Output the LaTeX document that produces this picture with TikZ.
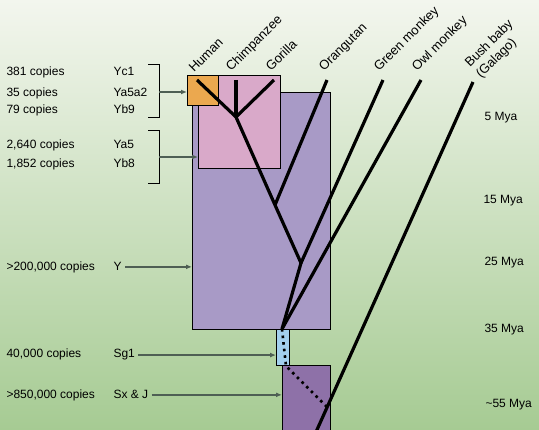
\documentclass[tikz,border=0pt]{standalone}
\usepackage{fontspec}
\setmainfont{Liberation Sans}
\usetikzlibrary{arrows.meta}
\definecolor{bgtop}{HTML}{F3F6EE}
\definecolor{bgmid}{HTML}{D2E4C5}
\definecolor{bgbot}{HTML}{A6CB93}
\definecolor{orangebox}{HTML}{EBA84F}
\definecolor{pinkbox}{HTML}{D9A9C9}
\definecolor{purplebox}{HTML}{A89AC6}
\definecolor{darkpurplebox}{HTML}{8E71A8}
\definecolor{bluebox}{HTML}{A3D0EE}
\definecolor{arrowgray}{HTML}{4E5F54}
\tikzstyle{every node}=[font=\fontsize{12}{14}\selectfont]
\tikzstyle{lbl}=[anchor=base west]
\tikzstyle{tiplbl}=[anchor=base west, rotate=45, inner sep=0pt, font=\fontsize{13}{15}\selectfont]
\tikzstyle{box}=[draw=black, line width=0.8pt, anchor=north west, inner sep=0pt]
\tikzstyle{branch}=[line width=3.2pt]
\tikzstyle{ptr}=[arrowgray, line width=1.4pt, -{Latex[length=6pt,width=5pt]}]
\tikzstyle{brace}=[line width=0.8pt]

\begin{document}
\begin{tikzpicture}[x=1pt, y=-1pt]
	\useasboundingbox (0,0) rectangle (539,430);
	%background
	\shade[top color=bgtop, middle color=bgmid, bottom color=bgbot] (0,0) rectangle (539,430);
	%boxes
	\node[box, fill=purplebox, minimum width=138pt, minimum height=237pt] (purple) at (192,92) {};
	\node[box, fill=pinkbox, minimum width=82pt, minimum height=93pt] (pink) at (198,75) {};
	\node[box, fill=orangebox, minimum width=31pt, minimum height=30pt] (orange) at (187,75) {};
	\node[box, fill=bluebox, minimum width=13pt, minimum height=36pt] (blue) at (276,329) {};
	\node[box, fill=darkpurplebox, minimum width=48pt, minimum height=68pt] (darkpurple) at (282,365) {};
	%tree
	\coordinate (human) at (197,80);
	\coordinate (chimp) at (236,80);
	\coordinate (gorilla) at (274,80);
	\coordinate (orang) at (327,80);
	\coordinate (green) at (383,80);
	\coordinate (owl) at (421,80);
	\coordinate (bush) at (473,82);
	\coordinate (hc) at (236,117);
	\coordinate (ho) at (275,205);
	\coordinate (hg) at (301,263);
	\coordinate (root) at (282,329);
	\coordinate (sg) at (286,366);
	\coordinate (bj) at (327,407);
	\coordinate (bushend) at (316,432);
	\draw[branch] (human) -- (hc) -- (ho) -- (hg) -- (root);
	\draw[branch] (chimp) -- (hc);
	\draw[branch] (gorilla) -- (hc);
	\draw[branch] (orang) -- (ho);
	\draw[branch] (green) -- (hg);
	\draw[branch] (owl) -- (root);
	\draw[branch] (bush) -- (bushend);
	\draw[line width=2.6pt, dash pattern=on 2.6pt off 4pt] (root) -- (sg) -- (bj);
	%species
	\node[tiplbl] (humanl) at (194,73) {Human};
	\node[tiplbl] (chimpl) at (231,72) {Chimpanzee};
	\node[tiplbl] (gorillal) at (271,72) {Gorilla};
	\node[tiplbl] (orangl) at (324,72) {Orangutan};
	\node[tiplbl] (greenl) at (379,72) {Green monkey};
	\node[tiplbl] (owll) at (417,72) {Owl monkey};
	\node[tiplbl] (bushl) at (470,68) {Bush baby};
	\node[tiplbl] (galagol) at (481,79) {(Galago)};
	%ages
	\node[lbl] (mya5) at (481,121) {5 Mya};
	\node[lbl] (mya15) at (480,204) {15 Mya};
	\node[lbl] (mya25) at (481,266) {25 Mya};
	\node[lbl] (mya35) at (481,333) {35 Mya};
	\node[lbl] (mya55) at (482,408) {\textasciitilde55 Mya};
	%copies
	\node[lbl] (yc1n) at (3,76) {381 copies};
	\node[lbl] (ya5a2n) at (3,97) {35 copies};
	\node[lbl] (yb9n) at (3,114) {79 copies};
	\node[lbl] (ya5n) at (3,149) {2,640 copies};
	\node[lbl] (yb8n) at (3,168) {1,852 copies};
	\node[lbl] (yn) at (3,271) {>200,000 copies};
	\node[lbl] (sg1n) at (3,358) {40,000 copies};
	\node[lbl] (sxn) at (3,399) {>850,000 copies};
	%families
	\node[lbl] (yc1) at (110,76) {Yc1};
	\node[lbl] (ya5a2) at (110,97) {Ya5a2};
	\node[lbl] (yb9) at (110,114) {Yb9};
	\node[lbl] (ya5) at (110,149) {Ya5};
	\node[lbl] (yb8) at (110,168) {Yb8};
	\node[lbl] (yfam) at (110,271) {Y};
	\node[lbl] (sg1) at (110,358) {Sg1};
	\node[lbl] (sxj) at (110,399) {Sx \& J};
	%brackets
	\coordinate (br1) at (159,92);
	\coordinate (br2) at (159,157);
	\draw[brace] (148,64) -- (159,64) -- (159,117) -- (148,117);
	\draw[brace] (148,130) -- (159,130) -- (159,183) -- (148,183);
	%arrows
	\draw[ptr] (br1) -- (orange.west |- br1);
	\draw[ptr] (br2) -- (pink.west |- br2);
	\draw[ptr] (yfam.east) -- (purple.west |- yfam.east);
	\draw[ptr] (sg1.east) -- (blue.west |- sg1.east);
	\draw[ptr] (sxj.east) -- (darkpurple.west |- sxj.east);
\end{tikzpicture}
\end{document}
